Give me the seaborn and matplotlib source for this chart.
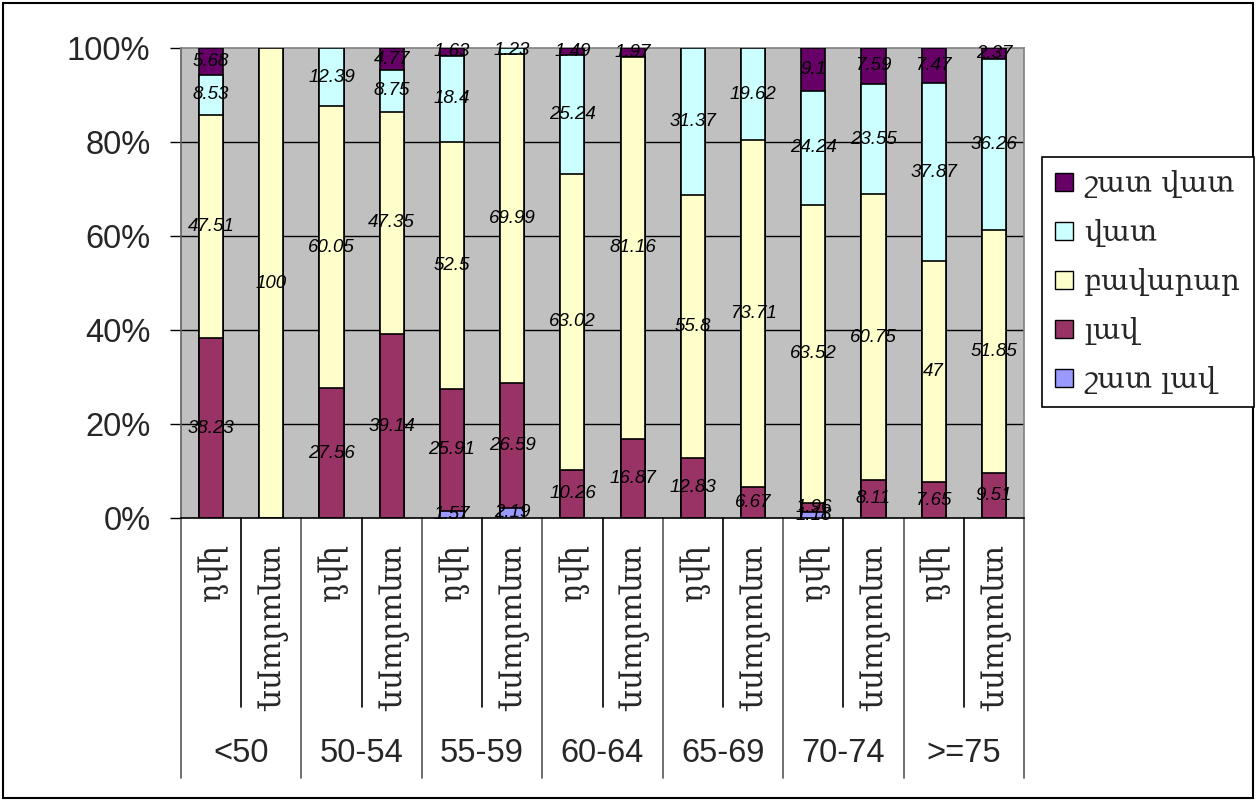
import matplotlib
matplotlib.use("Agg")
import matplotlib.pyplot as plt
from matplotlib.patches import Patch, Rectangle
import numpy as np
import pandas as pd
import seaborn as sns

sns.set_theme(style="white")
plt.rcParams["font.family"] = ["Liberation Sans", "DejaVu Sans"]
ARM = ["DejaVu Serif", "DejaVu Sans"]

# ── DATA
age_groups = ["<50", "50-54", "55-59", "60-64", "65-69", "70-74", ">=75"]
sexes = ["կին", "տղամարդ"]
levels = ["շատ լավ", "լավ", "բավարար", "վատ", "շատ վատ"]   # bottom -> top
colors = ["#9999FF", "#993366", "#FFFFCC", "#CCFFFF", "#660066"]

very_good = [0, 0, 0, 0, 1.57, 2.19, 0, 0, 0, 0, 1.18, 0, 0, 0]
good      = [38.23, 0, 27.56, 39.14, 25.91, 26.59, 10.26, 16.87, 12.83, 6.67, 1.96, 8.11, 7.65, 9.51]
fair      = [47.51, 100, 60.05, 47.35, 52.5, 69.99, 63.02, 81.16, 55.8, 73.71, 63.52, 60.75, 47, 51.85]
bad       = [8.53, 0, 12.39, 8.75, 18.4, 1.23, 25.24, 0, 31.37, 19.62, 24.24, 23.55, 37.87, 36.26]
very_bad  = [5.68, 0, 0, 4.77, 1.63, 0, 1.49, 1.97, 0, 0, 9.1, 7.59, 7.47, 2.37]

df = pd.DataFrame(dict(zip(levels, [very_good, good, fair, bad, very_bad])))
n = len(df)
pos = np.arange(n)
share = df[levels].div(df[levels].sum(axis=1), axis=0) * 100
cum = share.cumsum(axis=1)

fig = plt.figure(figsize=(12.58, 8), dpi=100)
ax = fig.add_axes([181/1258, 1-518/800, (1024-181)/1258, (518-48)/800])
ax.set_facecolor("#C0C0C0")

# stacked bars: draw cumulative totals from top layer down
for lvl, col in reversed(list(zip(levels, colors))):
    sns.barplot(x=pos, y=cum[lvl].values, color=col, saturation=1, width=0.4,
                edgecolor="black", linewidth=1.2, ax=ax, zorder=3)

# data labels
for i in range(n):
    base = 0
    for lvl in levels:
        v = df[lvl].iloc[i]; h = share[lvl].iloc[i]
        if v > 0:
            ax.text(i, base + h/2, f"{v:g}", ha="center", va="center", fontsize=13.5,
                    style="italic", color="black", zorder=5)
        base += h

ax.set_ylim(0, 100)
ax.set_xlim(-0.5, n-0.5)
ax.set_yticks([0, 20, 40, 60, 80, 100])
ax.set_yticklabels([f"{t}%" for t in range(0, 101, 20)], fontsize=23.5)
ax.tick_params(axis="y", left=True, length=8, width=1, color="black", pad=14)
ax.set_xticks([])
ax.set_xlabel(""); ax.set_ylabel("")
for y in [20, 40, 60, 80]:
    ax.axhline(y, color="black", lw=1, zorder=1)
ax.spines["left"].set_color("#606060")
ax.spines["bottom"].set_color("black")
ax.spines["top"].set_color("#808080")
ax.spines["right"].set_color("#808080")
for s in ax.spines.values():
    s.set_linewidth(1.2)

# category axis (two levels)
tr = ax.get_xaxis_transform()
short_end = -(707-518)/470
long_end = -(778-518)/470
for k in range(n+1):
    xb = k - 0.5
    if k % 2 == 0:
        ax.plot([xb, xb], [0, long_end], transform=tr, color="#555555", lw=1.2, clip_on=False)
    else:
        ax.plot([xb, xb], [0, short_end], transform=tr, color="black", lw=1.2, clip_on=False)
for i in range(n):
    ax.text(i, -(545-518)/470, sexes[i % 2], transform=tr, rotation=-90, ha="center", va="top",
            fontsize=22, family=ARM)
for g, name in enumerate(age_groups):
    ax.text(2*g + 0.5, -(753-518)/470, name, transform=tr, ha="center", va="center", fontsize=23.5)

# legend
handles = [Patch(facecolor=c, edgecolor="black", label=l) for l, c in zip(levels, colors)][::-1]
leg = fig.legend(handles=handles, loc="upper left", bbox_to_anchor=(1042/1258, 1-157/800),
                 frameon=True, fancybox=False, edgecolor="black", framealpha=1,
                 prop={"family": ARM, "size": 21}, handlelength=0.6, handleheight=0.6,
                 handletextpad=0.4, labelspacing=0.72, borderpad=0.45, borderaxespad=0)
leg.get_frame().set_linewidth(1.2)

fig.add_artist(Rectangle((3/1258, 2/800), 1250/1258, 795/800, transform=fig.transFigure,
                         fill=False, edgecolor="black", lw=1.5))

fig.savefig("out.png", dpi=100, facecolor="white")
